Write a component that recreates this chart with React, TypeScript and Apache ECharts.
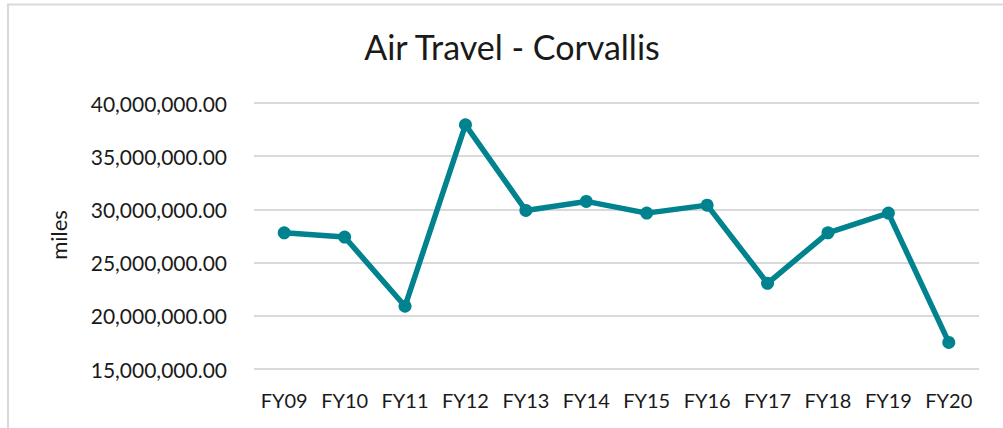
import React, { useEffect, useRef } from "react";
import * as echarts from "echarts";

const categories = ["FY09", "FY10", "FY11", "FY12", "FY13", "FY14", "FY15", "FY16", "FY17", "FY18", "FY19", "FY20"];
const milesValues = [27800000, 27400000, 20900000, 37950000, 29900000, 30750000, 29650000, 30400000, 23050000, 27800000, 29650000, 17500000];
const titleText = "Air Travel - Corvallis";
const yAxisName = "miles";

const FONT = "Lato, 'Open Sans', sans-serif";

export default function App() {
  const ref = useRef<HTMLDivElement>(null);
  useEffect(() => {
    if (!ref.current) return;
    const chart = echarts.init(ref.current, null, { renderer: "svg" });
    chart.setOption({
      animation: false,
      backgroundColor: "#ffffff",
      title: {
        text: titleText,
        left: 507,
        top: 24,
        textAlign: "center",
        textStyle: { fontFamily: FONT, fontSize: 34, fontWeight: "normal", color: "#1a1a1a" },
      },
      graphic: [
        { type: "line", shape: { x1: 7, y1: 4.5, x2: 1003, y2: 4.5 }, style: { stroke: "#d9d9d9", lineWidth: 2 } },
        { type: "line", shape: { x1: 8, y1: 4, x2: 8, y2: 428 }, style: { stroke: "#d9d9d9", lineWidth: 2 } },
        {
          type: "text",
          x: 58,
          y: 235,
          rotation: Math.PI / 2,
          style: { text: yAxisName, fontFamily: FONT, fontSize: 22, fill: "#1a1a1a", align: "center", verticalAlign: "middle" },
        },
      ],
      grid: { left: 254, right: 24, top: 103, bottom: 59, containLabel: false },
      xAxis: {
        type: "category",
        data: categories,
        boundaryGap: true,
        axisLine: { show: false },
        axisTick: { show: false },
        axisLabel: { fontFamily: FONT, fontSize: 20, color: "#1a1a1a", margin: 21, interval: 0 },
      },
      yAxis: {
        type: "value",
        min: 15000000,
        max: 40000000,
        interval: 5000000,
        axisLine: { show: false },
        axisTick: { show: false },
        splitLine: { lineStyle: { color: "#d9d9d9", width: 2 } },
        axisLabel: {
          fontFamily: FONT,
          fontSize: 21,
          color: "#1a1a1a",
          margin: 27,
          formatter: (v: number) =>
            v.toLocaleString("en-US", { minimumFractionDigits: 2, maximumFractionDigits: 2 }),
        },
      },
      series: [
        {
          type: "line",
          data: milesValues,
          symbol: "circle",
          symbolSize: 13,
          lineStyle: { color: "#00838f", width: 5.5 },
          itemStyle: { color: "#00838f" },
        },
      ],
    });
    return () => chart.dispose();
  }, []);
  return (
    <div
      ref={ref}
      style={{ position: "fixed", left: 0, top: 0, width: 1003, height: 428 }}
    />
  );
}
